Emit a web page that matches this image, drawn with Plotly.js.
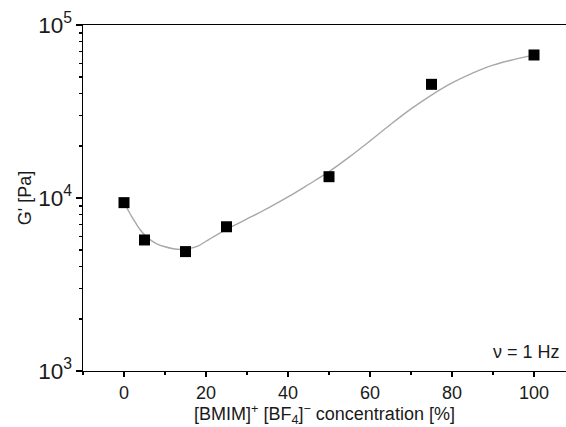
<!DOCTYPE html>
<html>
<head>
<meta charset="utf-8">
<script src="https://cdn.plot.ly/plotly-3.0.1.min.js"></script>
<style>html,body{margin:0;padding:0;background:#fff;}#chart{width:566px;height:427px;}</style>
</head>
<body>
<div id="chart"></div>
<script>
// measured data points
var concentration = [0, 5, 15, 25, 50, 75, 100];
var storageModulus = [9400, 5720, 4900, 6820, 13280, 45400, 67100];

// fitted guide curve (log10 of G')
var fitX = [0, 1, 2, 3, 4, 5, 6, 8, 10, 12, 14, 16, 18, 20, 22, 25, 28, 30, 35, 40, 45, 50, 55, 60, 65, 70, 75, 80, 85, 90, 95, 100];
var fitLogG = [3.973, 3.93, 3.888, 3.85, 3.815, 3.787, 3.765, 3.735, 3.718, 3.707, 3.703, 3.708, 3.722, 3.750, 3.778, 3.818, 3.855, 3.879, 3.940, 4.006, 4.078, 4.152, 4.238, 4.33, 4.425, 4.515, 4.595, 4.665, 4.722, 4.768, 4.800, 4.826];
var fitY = fitLogG.map(function(v){ return Math.pow(10, v); });

var fam = 'Liberation Sans, Arial, sans-serif';
var txt = {family: fam, size: 18, color: '#1a1a1a'};

var traces = [
  {x: fitX, y: fitY, type: 'scatter', mode: 'lines',
   line: {color: '#a8a8a8', width: 1.4, shape: 'spline', smoothing: 1}, hoverinfo: 'skip'},
  {x: concentration, y: storageModulus, type: 'scatter', mode: 'markers',
   marker: {symbol: 'square', size: 11, color: '#000', line: {width: 0}}}
];

var layout = {
  width: 566, height: 427,
  margin: {l: 83, r: 0, t: 25, b: 56},
  paper_bgcolor: '#fff', plot_bgcolor: '#fff',
  showlegend: false,
  font: txt,
  xaxis: {
    range: [-10, 107.8], dtick: 20, tick0: 0,
    showline: true, linecolor: '#000', linewidth: 1.3, mirror: true,
    ticks: 'outside', ticklen: 5, tickwidth: 1.3, tickcolor: '#000',
    minor: {dtick: 10, ticks: 'outside', ticklen: 3, tickwidth: 1.2, tickcolor: '#000', showgrid: false},
    showgrid: false, zeroline: false,
    tickfont: {family: fam, size: 18, color: '#1a1a1a'},
    title: {text: '[BMIM]<sup>+</sup> [BF<sub>4</sub>]<sup>\u2212</sup> concentration [%]', font: {family: fam, size: 18, color: '#1a1a1a'}, standoff: 6}
  },
  yaxis: {
    type: 'log', range: [3, 5], dtick: 1,
    exponentformat: 'power',
    showline: true, linecolor: '#000', linewidth: 1.3, mirror: false,
    ticks: 'outside', ticklen: 6, tickwidth: 1.3, tickcolor: '#000',
    minor: {dtick: 'D1', ticks: 'outside', ticklen: 3, tickwidth: 1.2, tickcolor: '#000', showgrid: false},
    showgrid: false, zeroline: false,
    tickfont: {family: fam, size: 18, color: '#1a1a1a'},
    title: {text: "G' [Pa]", font: {family: fam, size: 18, color: '#1a1a1a'}, standoff: 2}
  },
  annotations: [
    {text: '\u03BD = 1 Hz', xref: 'paper', yref: 'paper', x: 0.992, y: 0.055,
     xanchor: 'right', yanchor: 'middle', showarrow: false,
     font: {family: fam, size: 18, color: '#1a1a1a'}}
  ]
};

Plotly.newPlot('chart', traces, layout, {staticPlot: true, displayModeBar: false});
</script>
</body>
</html>
